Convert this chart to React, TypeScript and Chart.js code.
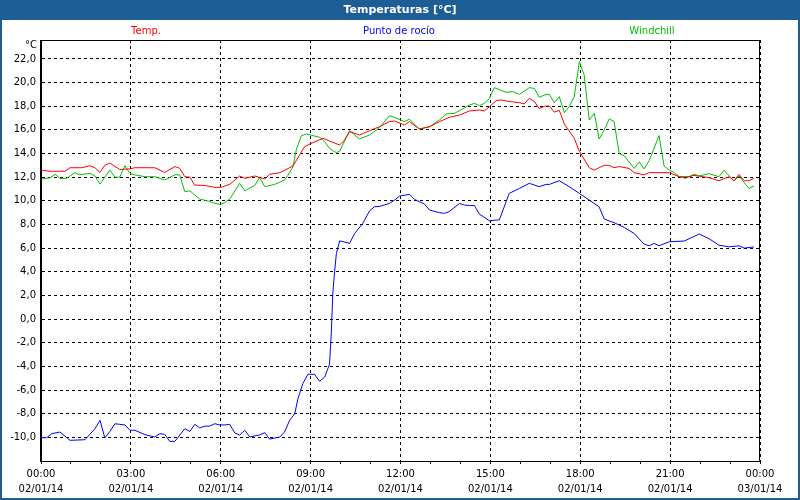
import React, { useEffect, useRef } from "react";
import { Chart, registerables } from "chart.js";

Chart.register(...registerables);

const chartTitle = "Temperaturas [°C]";
const unitLabel = "°C";
const seriesLabels = ["Temp.", "Punto de rocío", "Windchill"];
const seriesColors = ["#ff0000", "#0000ff", "#00c000"];
const yTickValues = [-10, -8, -6, -4, -2, 0, 2, 4, 6, 8, 10, 12, 14, 16, 18, 20, 22];
const xTickHours = [0, 3, 6, 9, 12, 15, 18, 21, 24];
const xTickTimes = ["00:00", "03:00", "06:00", "09:00", "12:00", "15:00", "18:00", "21:00", "00:00"];
const xTickDates = ["02/01/14", "02/01/14", "02/01/14", "02/01/14", "02/01/14", "02/01/14", "02/01/14", "02/01/14", "03/01/14"];

const tempHours = [0.0, 0.3, 0.8, 0.97, 1.36, 1.63, 1.8, 1.97, 2.13, 2.3, 2.47, 2.63, 2.97, 3.13, 3.8, 4.13, 4.47, 4.63, 4.8, 4.97, 5.13, 5.47, 5.8, 6.02, 6.3, 6.63, 6.8, 7.13, 7.47, 7.63, 7.97, 8.41, 8.63, 8.8, 8.97, 9.41, 9.63, 9.97, 10.13, 10.3, 10.63, 10.97, 11.3, 11.63, 11.8, 12.13, 12.3, 12.63, 12.97, 13.3, 13.63, 13.97, 14.3, 14.63, 14.8, 14.97, 15.19, 15.36, 15.63, 15.97, 16.13, 16.3, 16.47, 16.63, 16.8, 16.97, 17.13, 17.3, 17.47, 17.63, 17.8, 17.97, 18.3, 18.47, 18.63, 18.8, 18.97, 19.13, 19.3, 19.63, 19.8, 20.13, 20.3, 20.97, 21.3, 21.63, 21.8, 22.3, 22.63, 22.97, 23.13, 23.3, 23.47, 23.63, 23.8];
const tempValues = [12.6, 12.5, 12.5, 12.8, 12.8, 12.97, 12.8, 12.4, 13.0, 13.2, 12.9, 12.65, 12.7, 12.8, 12.8, 12.4, 12.9, 12.75, 12.04, 12.0, 11.33, 11.3, 11.14, 11.14, 11.4, 12.1, 11.9, 12.1, 11.85, 12.24, 12.38, 12.94, 13.87, 14.58, 14.8, 15.29, 15.06, 14.72, 15.14, 15.85, 15.57, 15.93, 16.27, 16.7, 16.75, 16.41, 16.7, 16.07, 16.27, 16.7, 17.06, 17.26, 17.6, 17.68, 17.6, 17.96, 18.47, 18.53, 18.4, 18.3, 18.2, 18.67, 18.4, 17.8, 18.0, 18.02, 17.5, 17.65, 16.5, 15.9, 15.29, 14.2, 12.8, 12.6, 12.8, 13.0, 13.0, 12.8, 12.9, 12.74, 12.38, 12.2, 12.38, 12.38, 12.04, 12.04, 12.15, 11.96, 11.7, 12.04, 11.7, 12.24, 11.7, 11.7, 11.9];

const dewHours = [0.02, 0.19, 0.36, 0.63, 0.97, 1.47, 1.8, 1.97, 2.13, 2.3, 2.47, 2.63, 2.8, 2.97, 3.13, 3.47, 3.8, 3.97, 4.13, 4.3, 4.47, 4.8, 4.97, 5.13, 5.3, 5.47, 5.63, 5.8, 5.97, 6.13, 6.3, 6.47, 6.63, 6.8, 6.97, 7.3, 7.47, 7.63, 7.97, 8.13, 8.3, 8.47, 8.58, 8.74, 8.91, 9.13, 9.3, 9.47, 9.63, 9.69, 9.74, 9.8, 9.86, 9.97, 10.3, 10.47, 10.74, 10.97, 11.13, 11.3, 11.63, 11.8, 11.97, 12.3, 12.47, 12.8, 12.97, 13.3, 13.47, 13.63, 13.97, 14.13, 14.3, 14.47, 14.63, 14.97, 15.3, 15.63, 15.97, 16.3, 16.63, 16.86, 16.97, 17.3, 17.63, 17.97, 18.3, 18.63, 18.8, 19.13, 19.47, 19.8, 20.13, 20.3, 20.47, 20.63, 20.97, 21.47, 21.97, 22.3, 22.63, 22.97, 23.3, 23.47, 23.8];
const dewValues = [-10.03, -10.03, -9.69, -9.55, -10.25, -10.2, -9.27, -8.56, -10.05, -9.5, -8.85, -8.9, -8.95, -9.4, -9.4, -9.77, -9.97, -9.69, -9.75, -10.34, -10.34, -9.27, -9.5, -8.9, -9.2, -9.05, -9.05, -8.85, -8.95, -8.95, -8.9, -9.63, -9.8, -9.4, -9.97, -9.8, -9.6, -10.15, -9.97, -9.55, -8.56, -8.0, -6.7, -5.45, -4.67, -4.67, -5.26, -4.9, -3.82, -1.22, 2.16, 4.0, 5.55, 6.62, 6.4, 7.24, 8.09, 9.16, 9.5, 9.53, 9.78, 10.06, 10.4, 10.55, 10.12, 9.73, 9.22, 9.0, 8.94, 9.1, 9.78, 9.65, 9.6, 9.6, 8.88, 8.31, 8.4, 10.63, 11.05, 11.48, 11.2, 11.39, 11.39, 11.7, 11.2, 10.63, 10.06, 9.5, 8.46, 8.15, 7.75, 7.24, 6.34, 6.2, 6.4, 6.2, 6.54, 6.6, 7.19, 6.8, 6.25, 6.11, 6.2, 6.0, 6.1];

const windHours = [0.02, 0.3, 0.47, 0.63, 0.86, 1.13, 1.3, 1.63, 1.8, 1.97, 2.13, 2.3, 2.47, 2.63, 2.8, 2.97, 3.13, 3.47, 3.8, 4.13, 4.47, 4.63, 4.8, 4.97, 5.13, 5.3, 5.63, 5.8, 5.97, 6.13, 6.3, 6.63, 6.8, 7.13, 7.3, 7.47, 7.8, 8.13, 8.25, 8.41, 8.52, 8.69, 8.86, 9.3, 9.47, 9.63, 9.86, 9.97, 10.3, 10.63, 10.97, 11.3, 11.63, 11.8, 12.13, 12.3, 12.63, 12.97, 13.3, 13.52, 13.8, 13.97, 14.3, 14.47, 14.63, 14.8, 14.97, 15.13, 15.3, 15.52, 15.75, 15.97, 16.3, 16.47, 16.63, 16.86, 16.97, 17.13, 17.3, 17.47, 17.63, 17.8, 17.97, 18.13, 18.3, 18.47, 18.63, 18.8, 18.97, 19.13, 19.3, 19.47, 19.8, 19.97, 20.13, 20.3, 20.63, 20.8, 20.97, 21.13, 21.3, 21.52, 21.8, 21.97, 22.3, 22.63, 22.8, 23.13, 23.3, 23.63, 23.8];
const windValues = [11.84, 11.95, 12.24, 11.9, 11.9, 12.38, 12.2, 12.33, 12.1, 11.42, 12.0, 12.6, 12.0, 12.0, 12.97, 12.3, 12.2, 12.04, 12.04, 11.76, 12.2, 12.2, 10.77, 10.85, 10.49, 10.15, 9.95, 9.78, 9.7, 9.85, 10.15, 11.48, 10.85, 11.3, 11.95, 11.2, 11.39, 11.76, 12.18, 12.88, 14.3, 15.51, 15.65, 15.37, 15.0, 14.44, 14.07, 14.2, 15.93, 15.23, 15.57, 16.19, 17.2, 17.06, 16.7, 16.9, 16.07, 16.27, 16.84, 17.34, 17.4, 17.63, 18.1, 18.24, 18.05, 18.24, 18.67, 19.57, 19.4, 19.18, 19.24, 19.0, 19.57, 19.5, 18.76, 19.0, 19.0, 18.3, 18.81, 17.46, 17.96, 18.81, 21.77, 20.65, 16.84, 17.4, 15.23, 16.0, 16.92, 16.7, 14.0, 13.8, 12.74, 13.3, 12.7, 13.4, 15.51, 12.94, 12.6, 12.4, 12.04, 11.9, 12.24, 12.1, 12.3, 12.04, 12.6, 11.67, 12.1, 11.05, 11.25];

const FONT = "'DejaVu Sans', sans-serif";
const FRAME = "#1d5f94";

function toPoints(hours: number[], values: number[]) {
  return hours.map((h, i) => ({ x: h, y: values[i] }));
}

const decorPlugin = {
  id: "decor",
  beforeDraw(chart: any) {
    const { ctx, width, height, chartArea } = chart;
    ctx.save();
    ctx.fillStyle = "#ffffff";
    ctx.fillRect(0, 0, width, height);
    ctx.fillStyle = FRAME;
    ctx.fillRect(0, 0, width, 20);
    ctx.fillStyle = "#ffffff";
    ctx.font = `bold 11px ${FONT}`;
    ctx.textAlign = "center";
    ctx.textBaseline = "middle";
    ctx.fillText(chartTitle, width / 2, 10);
    ctx.font = `10px ${FONT}`;
    const legendX = [146, 399, 652];
    seriesLabels.forEach((lab, i) => {
      ctx.fillStyle = seriesColors[i];
      ctx.fillText(lab, legendX[i], 31);
    });
    ctx.fillStyle = "#000000";
    ctx.textAlign = "right";
    ctx.fillText(unitLabel, chartArea.left - 4, 45);
    ctx.restore();
  },
  afterDraw(chart: any) {
    const { ctx, width, height, chartArea } = chart;
    ctx.save();
    ctx.strokeStyle = "#000000";
    ctx.lineWidth = 1;
    ctx.strokeRect(
      Math.round(chartArea.left) - 0.5,
      Math.round(chartArea.top) + 0.5,
      Math.round(chartArea.right - chartArea.left),
      Math.round(chartArea.bottom - chartArea.top)
    );
    ctx.fillStyle = FRAME;
    ctx.fillRect(0, 20, 2, height - 20);
    ctx.fillRect(width - 2, 20, 2, height - 20);
    ctx.fillRect(0, height - 2, width, 2);
    ctx.restore();
  },
};

export default function App() {
  const canvasRef = useRef<HTMLCanvasElement | null>(null);

  useEffect(() => {
    document.body.style.margin = "0";
    const canvas = canvasRef.current;
    if (!canvas) return;
    Chart.defaults.font.family = FONT;
    Chart.defaults.font.size = 10;
    Chart.defaults.color = "#000000";

    const chart = new Chart(canvas, {
      type: "line",
      data: {
        datasets: [
          { label: seriesLabels[0], data: toPoints(tempHours, tempValues), borderColor: seriesColors[0] },
          { label: seriesLabels[1], data: toPoints(dewHours, dewValues), borderColor: seriesColors[1] },
          { label: seriesLabels[2], data: toPoints(windHours, windValues), borderColor: seriesColors[2] },
        ].map((d) => ({ ...d, borderWidth: 1, pointRadius: 0, tension: 0, fill: false })),
      },
      options: {
        responsive: false,
        animation: false,
        devicePixelRatio: 1,
        layout: { padding: { top: 40, right: 40, left: 0, bottom: 0 } },
        plugins: { legend: { display: false }, tooltip: { enabled: false }, title: { display: false } },
        scales: {
          x: {
            type: "linear",
            min: 0,
            max: 24,
            afterFit: (s: any) => {
              s.height = 39;
            },
            ticks: {
              stepSize: 1,
              autoSkip: false,
              maxRotation: 0,
              padding: 3,
              font: { size: 10, lineHeight: 1.5 },
              callback: (v: any) => {
                const i = xTickHours.indexOf(Number(v));
                return i >= 0 ? [xTickTimes[i], xTickDates[i]] : "";
              },
            },
            grid: {
              color: (c: any) => (c.tick && c.tick.value % 3 === 0 ? "#000000" : "rgba(0,0,0,0)"),
              tickColor: "#000000",
              tickLength: 3,
              lineWidth: 1,
            },
            border: { display: true, color: "#000000", dash: [3, 3] },
          },
          y: {
            type: "linear",
            min: -12,
            max: 23.6,
            afterFit: (s: any) => {
              s.width = 41;
            },
            afterBuildTicks: (s: any) => {
              s.ticks = yTickValues.map((v) => ({ value: v }));
            },
            ticks: {
              padding: 5,
              callback: (v: any) => Number(v).toFixed(1).replace(".", ","),
            },
            grid: { color: "#000000", drawTicks: false, lineWidth: 1 },
            border: { display: true, color: "#000000", dash: [3, 3] },
          },
        },
      },
      plugins: [decorPlugin],
    });
    return () => chart.destroy();
  }, []);

  return (
    <div style={{ width: 800, height: 500, position: "relative" }}>
      <canvas ref={canvasRef} width={800} height={500} style={{ display: "block" }} />
    </div>
  );
}
